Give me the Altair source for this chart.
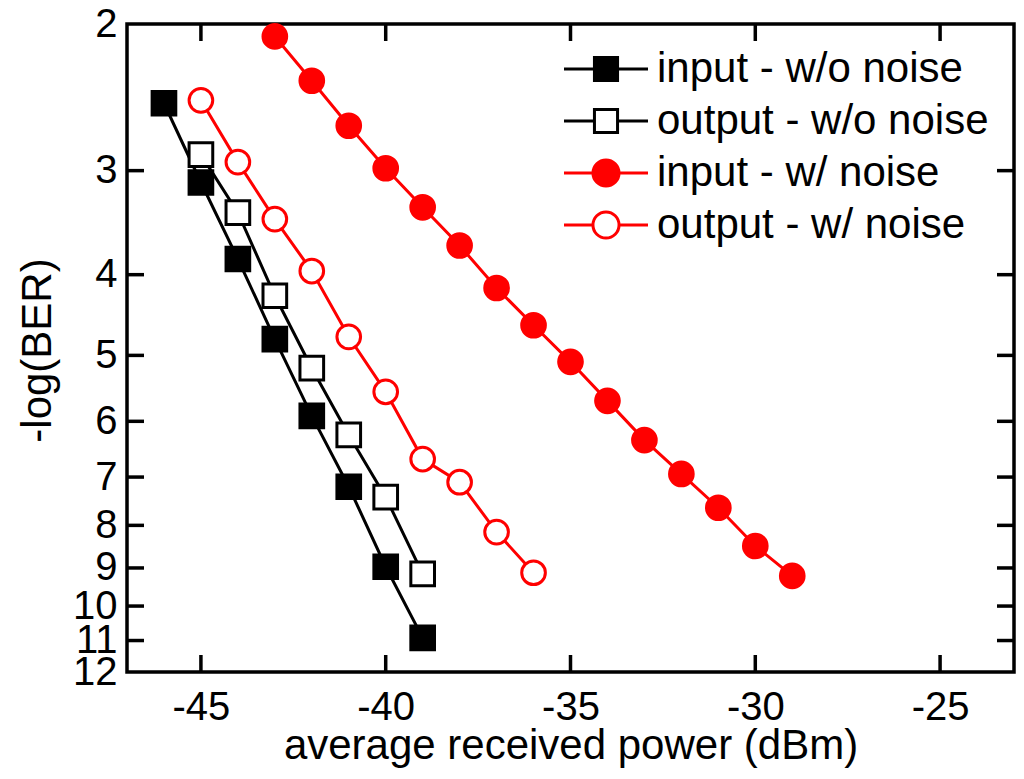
import altair as alt
import pandas as pd

series_names = ["input - w/o noise", "output - w/o noise", "input - w/ noise", "output - w/ noise"]

power_in_wo = [-46, -45, -44, -43, -42, -41, -40, -39]
mlogber_in_wo = [2.49, 3.10, 3.83, 4.78, 5.91, 7.19, 8.97, 10.92]

power_out_wo = [-45, -44, -43, -42, -41, -40, -39]
mlogber_out_wo = [2.87, 3.37, 4.24, 5.18, 6.23, 7.40, 9.15]

power_in_w = [-43, -42, -41, -40, -39, -38, -37, -36, -35, -34, -33, -32, -31, -30, -29]
mlogber_in_w = [2.07, 2.34, 2.65, 2.98, 3.32, 3.69, 4.15, 4.60, 5.09, 5.67, 6.32, 6.94, 7.62, 8.47, 9.20]

power_out_w = [-45, -44, -43, -42, -41, -40, -39, -38, -37, -36]
mlogber_out_w = [2.47, 2.93, 3.43, 3.96, 4.75, 5.53, 6.66, 7.10, 8.15, 9.12]

x_tick_values = [-45, -40, -35, -30, -25]
y_tick_values = [2, 3, 4, 5, 6, 7, 8, 9, 10, 11, 12]
y_inner_ticks = [3, 4, 5, 6, 7, 8, 9, 10, 11]

line_colors = ["black", "black", "red", "red"]
fill_colors = ["black", "white", "red", "white"]
plot_shapes = ["square", "square", "circle", "circle"]
plot_sizes = [560, 560, 690, 690]
sq_path = "M-2.8,0H-0.77M0.77,0H2.8M-0.77,-0.77H0.77V0.77H-0.77Z"
ci_path = "M-2.8,0H-0.87M0.87,0H2.8M-0.87,0A0.87,0.87,0,1,1,0.87,0A0.87,0.87,0,1,1,-0.87,0Z"
legend_shapes = [sq_path, sq_path, ci_path, ci_path]

rows = []
for name, xs, ys in zip(series_names,
                        [power_in_wo, power_out_wo, power_in_w, power_out_w],
                        [mlogber_in_wo, mlogber_out_wo, mlogber_in_w, mlogber_out_w]):
    for xv, yv in zip(xs, ys):
        rows.append({"series": name, "power": xv, "mlogber": yv})
df = pd.DataFrame(rows)

FONT = "Liberation Sans"
W, H = 887, 648

xscale = alt.Scale(domain=[-47, -23], nice=False, zero=False)
yscale = alt.Scale(type="log", domain=[2, 12], reverse=True, nice=False)

xaxis = alt.Axis(values=x_tick_values, labelExpr="datum.value + ''", ticks=False, tickSize=0,
                 domain=False, grid=False, labelFontSize=40, labelFont=FONT, labelColor="black",
                 labelPadding=15, labelOverlap=False,
                 title="average received power (dBm)", titleFont=FONT, titleFontSize=42,
                 titleFontWeight="normal", titleColor="black", titleX=W / 2, titleY=86,
                 titleBaseline="alphabetic")
yaxis = alt.Axis(values=y_tick_values, labelExpr="datum.value + ''", ticks=False, tickSize=0,
                 domain=False, grid=False, labelFontSize=40, labelFont=FONT, labelColor="black",
                 labelPadding=10, labelOverlap=False,
                 title="-log(BER)", titleFont=FONT, titleFontSize=42, titleFontWeight="normal",
                 titleColor="black", titleX=-77, titleY=326, titleAngle=270,
                 titleBaseline="alphabetic", titleAlign="center")

X = alt.X("power:Q", scale=xscale, axis=xaxis)
Y = alt.Y("mlogber:Q", scale=yscale, axis=yaxis)

sort_order = series_names

lines = alt.Chart(df).mark_line(strokeWidth=3).encode(
    x=X, y=Y,
    stroke=alt.Stroke("series:N", scale=alt.Scale(domain=series_names, range=line_colors), legend=None),
    detail="series:N",
)

points = alt.Chart(df).mark_point(strokeWidth=3, opacity=1).encode(
    x=X, y=Y,
    shape=alt.Shape("series:N", scale=alt.Scale(domain=series_names, range=plot_shapes), legend=None),
    fill=alt.Fill("series:N", scale=alt.Scale(domain=series_names, range=fill_colors), legend=None),
    stroke=alt.Stroke("series:N", scale=alt.Scale(domain=series_names, range=line_colors), legend=None),
    size=alt.Size("series:N", scale=alt.Scale(domain=series_names, range=plot_sizes), legend=None),
)

leg = alt.Legend(title=None, orient="none", legendX=458, legendY=24, labelFontSize=42,
                 labelFont=FONT, labelColor="black", symbolSize=900, symbolStrokeWidth=3,
                 labelOffset=30, rowPadding=10, padding=0, symbolOpacity=1, labelLimit=0)

legend_layer = alt.Chart(df).mark_point(strokeWidth=3, opacity=0).encode(
    x=X, y=Y,
    shape=alt.Shape("series:N", scale=alt.Scale(domain=series_names, range=legend_shapes), legend=leg, sort=sort_order),
    fill=alt.Fill("series:N", scale=alt.Scale(domain=series_names, range=fill_colors), legend=leg, sort=sort_order),
    stroke=alt.Stroke("series:N", scale=alt.Scale(domain=series_names, range=line_colors), legend=leg, sort=sort_order),
)

xt = pd.DataFrame({"power": x_tick_values})
yt = pd.DataFrame({"mlogber": y_inner_ticks})
TK = 17
tick_top = alt.Chart(xt).mark_rule(stroke="black", strokeWidth=3.5).encode(
    x=X, y=alt.value(0), y2=alt.value(TK))
tick_bottom = alt.Chart(xt).mark_rule(stroke="black", strokeWidth=3.5).encode(
    x=X, y=alt.value(H - TK), y2=alt.value(H))
tick_left = alt.Chart(yt).mark_rule(stroke="black", strokeWidth=3.5).encode(
    y=Y, x=alt.value(0), x2=alt.value(TK))
tick_right = alt.Chart(yt).mark_rule(stroke="black", strokeWidth=3.5).encode(
    y=Y, x=alt.value(W - TK), x2=alt.value(W))

chart = alt.layer(
    tick_top, tick_bottom, tick_left, tick_right, lines, points, legend_layer
).resolve_scale(
    shape="independent", fill="independent", stroke="independent", size="independent"
).properties(
    width=W, height=H,
    padding={"left": 119, "top": 16, "right": 2, "bottom": 98},
    autosize=alt.AutoSizeParams(type="none"),
    background="white",
).configure_view(
    stroke="black", strokeWidth=3.5
)

chart.save("out.html", embed_options={"renderer": "svg", "actions": False})
